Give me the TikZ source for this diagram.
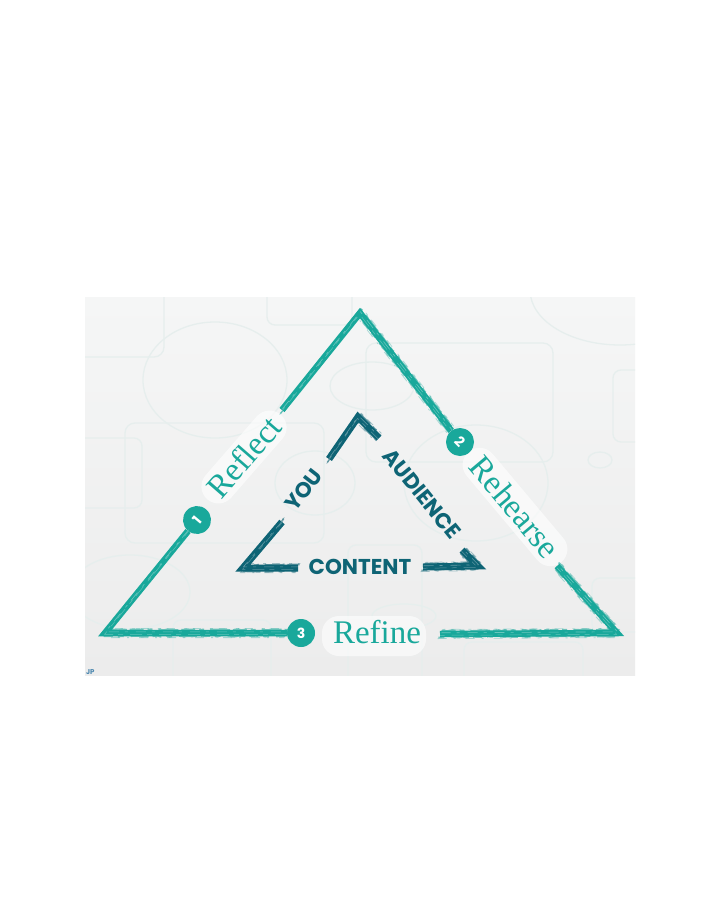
\documentclass[tikz,border=0pt]{standalone}
\usepackage{fontspec}
\setmainfont{Liberation Serif}
\newfontfamily\geo{Poppins}
\usetikzlibrary{calc,decorations.pathmorphing}

\definecolor{teal1}{HTML}{19A89B}
\definecolor{ink}{HTML}{0E6475}
\definecolor{bubble}{HTML}{E6EEED}
\definecolor{paneltop}{HTML}{F5F6F6}
\definecolor{panelbot}{HTML}{ECECEC}
\definecolor{sig}{HTML}{4A86AE}

% a rough, brush-like stroke: solid core plus ragged streaks on both edges
\newcommand\brushstroke[3]{%
  \draw[#1, line width=#2, line join=miter, miter limit=8] #3;
  \draw[#1, line width=1.6pt, opacity=.6, dash pattern=on 14pt off 4pt on 5pt off 6pt on 20pt off 3pt,
        decorate, decoration={random steps, segment length=3pt, amplitude=.5pt},
        transform canvas={shift={(1.6pt,3.4pt)}}] #3;
  \draw[#1, line width=1.4pt, opacity=.55, dash pattern=on 6pt off 7pt on 18pt off 4pt on 9pt off 5pt,
        decorate, decoration={random steps, segment length=3pt, amplitude=.5pt},
        transform canvas={shift={(-1.6pt,-3.4pt)}}] #3;
  \draw[#1, line width=.8pt, opacity=.35, dash pattern=on 3pt off 6pt on 8pt off 9pt,
        transform canvas={shift={(2.4pt,4.6pt)}}] #3;
  \draw[#1, line width=.8pt, opacity=.35, dash pattern=on 9pt off 7pt on 2pt off 10pt,
        transform canvas={shift={(-2.4pt,-4.6pt)}}] #3;
  \draw[white, line width=.6pt, opacity=.35, dash pattern=on 10pt off 6pt on 3pt off 8pt,
        transform canvas={shift={(0.5pt,1.2pt)}}] #3;
  \draw[white, line width=.5pt, opacity=.3, dash pattern=on 5pt off 7pt on 12pt off 5pt,
        transform canvas={shift={(-.4pt,-1.3pt)}}] #3;
}

\tikzset{
  bub/.style={draw=bubble, line width=1.3pt},
  lbl/.style={text=teal1, font=\fontsize{33}{36}\selectfont, inner sep=0pt},
  blob/.style={fill=white, opacity=.6, rounded corners=17pt, inner sep=0pt},
  stepnum/.style={circle, fill=teal1, minimum size=28pt, inner sep=0pt, text=white,
                  font=\geo\bfseries\fontsize{14}{14}\selectfont},
  intxt/.style={text=ink, font=\geo\bfseries\fontsize{21.5}{21.5}\selectfont, inner sep=0pt},
}

\begin{document}
\begin{tikzpicture}[x=1pt,y=-1pt]
\pgfmathsetseed{7}
\useasboundingbox (0,0) rectangle (720,900);
\fill[white] (0,0) rectangle (720,900);

% panel with faint speech-bubble pattern
\shade[top color=paneltop, bottom color=panelbot] (85,297) rectangle (635,675);
\begin{scope}
  \clip (85,297) rectangle (635,675);
  \draw[bub, rounded corners=10pt] (40,250) rectangle (164,357);
  \draw[bub] (215,380) ellipse [x radius=72, y radius=58];
  \draw[bub, rounded corners=8pt] (267,280) rectangle (352,325);
  \draw[bub, rounded corners=10pt] (366,343) rectangle (553,462);
  \draw[bub] (620,290) ellipse [x radius=90, y radius=55];
  \draw[bub, rounded corners=8pt] (613,370) rectangle (660,442);
  \draw[bub] (600,460) ellipse [x radius=12, y radius=8];
  \draw[bub] (476,483) ellipse [x radius=72, y radius=58];
  \draw[bub] (372,386) ellipse [x radius=42, y radius=24];
  \draw[bub, rounded corners=10pt] (125,423) rectangle (324,543);
  \draw[bub, rounded corners=8pt] (60,438) rectangle (142,508);
  \draw[bub] (315,483) ellipse [x radius=40, y radius=32];
  \draw[bub] (130,592) ellipse [x radius=60, y radius=37];
  \draw[bub, rounded corners=8pt] (173,620) rectangle (271,690);
  \draw[bub, rounded corners=8pt] (348,545) rectangle (422,690);
  \draw[bub, rounded corners=8pt] (464,642) rectangle (583,690);
  \draw[bub, rounded corners=8pt] (592,578) rectangle (660,632);
  \draw[bub] (404,616) ellipse [x radius=32, y radius=12];
\end{scope}

% outer triangle corners and stroke ends
\coordinate (apex) at (360,313);
\coordinate (bl) at (105,633);
\coordinate (br) at (617,633);
\coordinate (lA) at (282,410);
\coordinate (rB) at (557,566);
\coordinate (bA) at (440,634);

% soft white patches behind the step labels
\node[blob, minimum width=112pt, minimum height=34pt, rotate=49] (reflectbg) at (244,457) {};
\node[blob, minimum width=144pt, minimum height=34pt, rotate=-50] (rehearsebg) at (515,507) {};
\node[blob, minimum width=104pt, minimum height=40pt] (refinebg) at (374,636) {};

% step markers
\node[stepnum, rotate=50] (n1) at (197,520) {1};
\node[stepnum, rotate=-45] (n2) at (460,442) {2};
\node[stepnum] (n3) at (301,633) {3};

% outer triangle
\brushstroke{teal1}{6.5pt}{(lA) -- (apex) -- (n2)}
\brushstroke{teal1}{6.5pt}{(n1) -- (bl) -- (n3)}
\brushstroke{teal1}{6.5pt}{(bA) -- (br) -- (rB)}

% step labels
\node[lbl, rotate=49] (reflect) at (244,457) {Reflect};
\node[lbl, rotate=-50] (rehearse) at (515,507) {Rehearse};
\node[lbl] (refine) at (377,632) {Refine};

% inner cycle
\coordinate (iApex) at (358,417);
\coordinate (iL) at (329,459);
\coordinate (iR) at (379,438);
\coordinate (iBL) at (243,568);
\coordinate (iBLtop) at (282,522);
\coordinate (iBLright) at (298,568);
\coordinate (iAs) at (423,567);
\coordinate (iTip) at (478,566);
\coordinate (iBarb) at (462,550);

\brushstroke{ink}{7pt}{(iL) -- (iApex) -- (iR)}
\brushstroke{ink}{7pt}{(iBLtop) -- (iBL) -- (iBLright)}
\brushstroke{ink}{7pt}{(iAs) -- (iTip) -- (iBarb)}

\node[intxt, rotate=52] (you) at (304,490) {YOU};
\node[intxt, rotate=-51] (audience) at (422,494) {AUDIENCE};
\node[intxt] (content) at (360,567) {CONTENT};

% initials
\node[text=sig, font=\geo\bfseries\fontsize{7}{7}\selectfont, inner sep=0pt, anchor=west] (jp) at (86,672) {JP};
\end{tikzpicture}
\end{document}
